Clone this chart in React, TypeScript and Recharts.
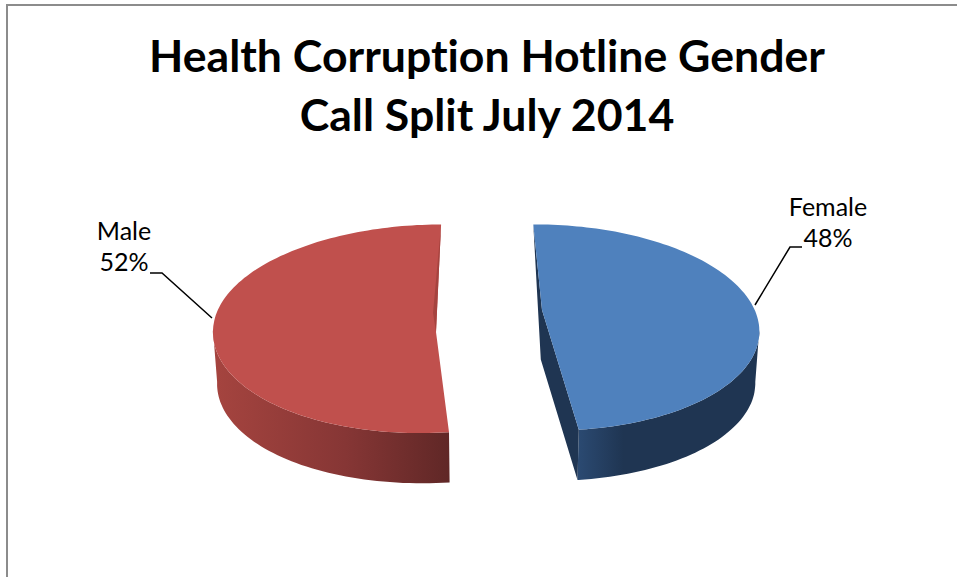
import { Pie, PieChart } from 'recharts';

const categories = ['Female', 'Male'];
const shares = [48.4, 51.6];
const titleLines = ['Health Corruption Hotline Gender', 'Call Split July 2014'];

const data = categories.map((name, i) => ({ name, value: shares[i] }));

// look of the tilted 3d pie
const TILT = 0.46;
const PERSPECTIVE = 0.15;
const DEPTH = 52;
const BASE_SCALE = 0.985;

const sliceLook: Record<string, any> = {
  Female: {
    top: '#4f81bd',
    shift: 54,
    reach: 0.975,
    lean: 0,
    sag: 0,
    apexDrop: -2,
    wallFrom: 100,
    stops: [['0%', '#2b4a72'], ['25%', '#1f3552'], ['100%', '#1f3552']],
    gradX: [578, 760],
    label: { x: 828, y: 216, leader: [[755, 305], [790, 247], [802, 247]] },
  },
  Male: {
    top: '#c0504d',
    shift: -52,
    reach: 1,
    lean: 5,
    sag: 4,
    apexDrop: 20,
    wallTo: 260,
    stops: [['0%', '#a5443f'], ['55%', '#863635'], ['100%', '#5f2726']],
    gradX: [215, 452],
    label: { x: 124, y: 240, leader: [[212, 318], [162, 273], [150, 273]] },
  },
};

function PieSlice(props: any) {
  const { cx, cy, outerRadius: r, startAngle, endAngle, name } = props;
  const look = sliceLook[name];

  const project = (u: number, v: number, base = false) => {
    const s = 1 / (1 - (PERSPECTIVE * v) / r);
    const k = base ? BASE_SCALE : 1;
    return [cx + u * s * k, cy + v * TILT * s * k + (base ? DEPTH : 0)];
  };
  const rim = (deg: number, base = false) => {
    const t = (deg * Math.PI) / 180;
    const front = Math.max(0, -Math.cos(t));
    return project(
      look.shift + r * look.reach * Math.sin(t) - look.lean * front * front,
      -r * Math.cos(t) + look.sag * front * front,
      base,
    );
  };
  const toPath = (pts: number[][]) =>
    'M' + pts.map((p) => `${p[0].toFixed(1)},${p[1].toFixed(1)}`).join('L') + 'Z';
  const sweep = (a: number, b: number, base = false) => {
    const pts = [];
    for (let d = a; d < b; d += 1.5) pts.push(rim(d, base));
    pts.push(rim(b, base));
    return pts;
  };

  const from = 90 - startAngle;
  const to = 90 - endAngle;
  const apex = project(look.shift, 0);
  apex[1] += look.apexDrop;
  const wallA = look.wallFrom ?? from;
  const wallB = look.wallTo ?? to;
  const gradId = `wall-${name}`;

  return (
    <g>
      <defs>
        <linearGradient id={gradId} gradientUnits="userSpaceOnUse" x1={look.gradX[0]} x2={look.gradX[1]} y1={0} y2={0}>
          {look.stops.map((st: string[]) => (
            <stop key={st[0]} offset={st[0]} stopColor={st[1]} />
          ))}
        </linearGradient>
      </defs>
      <path
        d={toPath([...sweep(wallA, wallB), ...sweep(wallA, wallB, true).reverse()])}
        fill={`url(#${gradId})`}
      />
      {name === 'Female' && (
        <path
          d={toPath([rim(from), project(look.shift, -10, true), rim(to, true), rim(to), apex])}
          fill="#1f3552"
        />
      )}
      <path d={toPath([...sweep(from, to), apex])} fill={look.top} />
      {name === 'Male' && (
        <path
          d={toPath([rim(to), [apex[0] - 3, apex[1] - 19], apex])}
          fill="#a5433f"
        />
      )}
    </g>
  );
}

function SliceLabel(props: any) {
  const { name, percent } = props;
  const { label } = sliceLook[name];
  return (
    <g>
      <polyline points={label.leader.join(' ')} fill="none" stroke="#000" strokeWidth={1.5} />
      <text x={label.x} y={label.y} textAnchor="middle" fontFamily="Lato" fontSize={25} fill="#000">
        <tspan x={label.x}>{name}</tspan>
        <tspan x={label.x} dy={31}>{`${Math.round(percent * 100)}%`}</tspan>
      </text>
    </g>
  );
}

export default function App() {
  return (
    <div style={{ position: 'absolute', left: 0, top: 0, width: 957, height: 577, background: '#fff', overflow: 'hidden' }}>
      <div
        style={{
          position: 'absolute',
          left: 6,
          top: 4,
          width: 951,
          height: 573,
          borderLeft: '2px solid #8c8c8c',
          borderTop: '2px solid #8c8c8c',
        }}
      />
      {titleLines.map((line, i) => (
        <div
          key={line}
          style={{
            position: 'absolute',
            left: 0,
            width: 974,
            top: 25 + i * 59,
            textAlign: 'center',
            fontFamily: 'Lato',
            fontWeight: 700,
            fontSize: 44.6,
            fontVariantLigatures: 'none',
            lineHeight: '59px',
            color: '#000',
          }}
        >
          {line}
        </div>
      ))}
      <div style={{ position: 'absolute', left: 0, top: 0 }}>
        <PieChart width={957} height={577} margin={{ top: 0, right: 0, bottom: 0, left: 0 }}>
          <Pie
            data={data}
            dataKey="value"
            nameKey="name"
            cx={488}
            cy={312}
            outerRadius={219}
            startAngle={90.5}
            endAngle={-269.5}
            stroke="none"
            shape={PieSlice}
            label={SliceLabel}
            labelLine={false}
            isAnimationActive={false}
          />
        </PieChart>
      </div>
    </div>
  );
}
